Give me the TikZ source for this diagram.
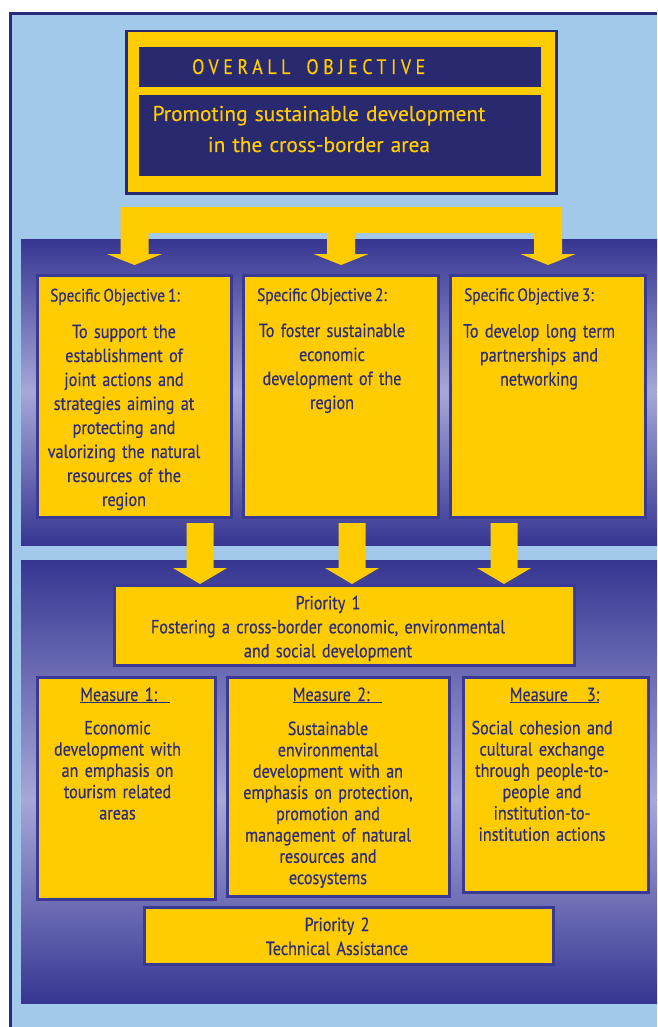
\documentclass[tikz,border=0pt]{standalone}
\usepackage{fontspec}
\setmainfont{PT Sans}[FakeStretch=0.85,WordSpace=0.75,FakeBold=0.4]
\newfontfamily\goalfont{PT Sans}[WordSpace=0.8,FakeBold=0.3]
\usetikzlibrary{calc}

\definecolor{sky}{HTML}{A2C8EA}
\definecolor{frame}{HTML}{2A2A7A}
\definecolor{navy}{HTML}{29296F}
\definecolor{gold}{HTML}{FECC00}
\definecolor{edge}{HTML}{3A3A96}
\definecolor{ink}{HTML}{2C2C7C}
\definecolor{panel}{HTML}{363692}
\definecolor{panellite}{HTML}{A6A8D8}

\tikzset{
  goldbox/.style={draw=edge,line width=3pt,fill=gold,anchor=north west,inner sep=0pt},
  navybox/.style={fill=navy,anchor=north west,inner sep=0pt},
  shadedown/.style={top color=panel,bottom color=panellite},
  shadeup/.style={top color=panellite,bottom color=panel},
  headtext/.style={text=gold,inner sep=0pt,anchor=base west,
    font=\fontsize{21}{21}\selectfont\addfontfeature{LetterSpace=22}},
  goaltext/.style={text=gold,inner sep=0pt,anchor=base,align=center,text width=400,
    font=\goalfont\fontsize{21.4}{31}\selectfont},
  titletext/.style={text=ink,inner sep=0pt,anchor=base west,font=\fontsize{18}{24}\selectfont},
  bodytext/.style={text=ink,inner sep=0pt,anchor=base,align=center,text width=300,
    font=\fontsize{19}{24}\selectfont},
  measuretext/.style={bodytext,font=\fontsize{19}{21.3}\selectfont},
  prioritytext/.style={bodytext,text width=440}
}

\begin{document}
\begin{tikzpicture}[x=1pt,y=-1pt]
  \useasboundingbox (0,0) rectangle (657,1027);
  % background and frame
  \fill[frame] (9,12) rectangle (657,1027);
  \fill[sky] (12,15) rectangle (657,1027);
  \shade[shadedown] (21,239) rectangle (657,392);
  \shade[shadeup] (21,391.5) rectangle (657,545);
  \shade[shadedown] (21,560) rectangle (657,800);
  \shade[shadeup] (21,799.5) rectangle (657,1003);

  % overall objective
  \node[goldbox,draw=navy,line width=2.5pt,minimum width=430,minimum height=162] (top) at (125,30) {};
  \node[navybox,minimum width=402,minimum height=40] (head) at (139,47) {};
  \node[navybox,minimum width=402,minimum height=81] (goal) at (139,95) {};
  \node[headtext] (headlbl) at (192,74) {OVERALL\hspace{16pt}OBJECTIVE};
  \node[goaltext] (goallbl) at (319,121) {Promoting sustainable development\\in the cross-border area};

  % specific objectives
  \node[goldbox,minimum width=194,minimum height=242] (so1) at (36,274) {};
  \node[goldbox,minimum width=195,minimum height=242] (so2) at (242,274) {};
  \node[goldbox,minimum width=195,minimum height=242] (so3) at (449,274) {};
  \node[titletext] (so1t) at (50,301.5) {Specific Objective 1:};
  \node[titletext] (so2t) at (257,301) {Specific Objective 2:};
  \node[titletext] (so3t) at (464,301) {Specific Objective 3:};
  \node[bodytext] (so1b) at (124,338) {To support the\\establishment of\\joint actions and\\strategies aiming at\\protecting and\\valorizing the natural\\resources of the\\region};
  \node[bodytext] (so2b) at (332,337) {To foster sustainable\\economic\\development of the\\region};
  \node[bodytext] (so3b) at (539,337.5) {To develop long term\\partnerships and\\networking};

  % arrows from the overall objective
  \coordinate (t1) at ($(so1.north)+(0,-9)$);
  \coordinate (t2) at ($(so2.north)+(0,-9)$);
  \coordinate (t3) at ($(so3.north)+(0,-9)$);
  \fill[gold] ($(t1)+(-14,-58)$) -- ($(t3)+(14,-58)$) -- ($(t3)+(14,-11)$) -- ($(t3)+(27.5,-11)$)
    -- (t3) -- ($(t3)+(-27.5,-11)$) -- ($(t3)+(-14,-11)$) -- ($(t3)+(-14,-32)$)
    -- ($(t2)+(14,-32)$) -- ($(t2)+(14,-11)$) -- ($(t2)+(27.5,-11)$)
    -- (t2) -- ($(t2)+(-27.5,-11)$) -- ($(t2)+(-14,-11)$) -- ($(t2)+(-14,-32)$)
    -- ($(t1)+(14,-32)$) -- ($(t1)+(14,-11)$) -- ($(t1)+(27.5,-11)$)
    -- (t1) -- ($(t1)+(-27.5,-11)$) -- ($(t1)+(-14,-11)$) -- cycle;

  % priority 1 and measures
  \node[goldbox,minimum width=460,minimum height=80] (pr1) at (113,584) {};
  \node[prioritytext] (pr1t) at (328,609.3) {Priority 1\\Fostering a cross-border economic, environmental\\and social development};
  \node[goldbox,minimum width=178,minimum height=222] (m1) at (36,676) {};
  \node[goldbox,minimum width=222,minimum height=219] (m2) at (226,676) {};
  \node[goldbox,minimum width=185,minimum height=215] (m3) at (462,676) {};
  \node[bodytext] (m1t) at (125,701) {\underline{Measure 1:\ \ }};
  \node[bodytext] (m2t) at (337.5,701) {\underline{Measure 2:\ \ }};
  \node[bodytext] (m3t) at (554.5,701) {\underline{Measure\ \ \ 3:}};
  \node[measuretext] (m1b) at (117.5,734.3) {Economic\\development with\\an emphasis on\\tourism related\\areas};
  \node[measuretext] (m2b) at (328,735) {Sustainable\\environmental\\development with an\\emphasis on protection,\\promotion and\\management of natural\\resources and\\ecosystems};
  \node[measuretext] (m3b) at (542,734.3) {Social cohesion and\\cultural exchange\\through people-to-\\people and\\institution-to-\\institution actions};
  \node[goldbox,minimum width=409,minimum height=57] (pr2) at (143,906) {};
  \node[prioritytext] (pr2t) at (337,931) {Priority 2\\Technical Assistance};

  % arrows from the specific objectives
  \coordinate (s1) at ($(so1.south)+(65.5,4)$);
  \coordinate (s2) at ($(so2.south)+(11,4)$);
  \coordinate (s3) at ($(so3.south)+(-44,4)$);
  \foreach \i in {1,2,3}{
    \coordinate (u\i) at (s\i |- pr1.north);
    \fill[gold] ($(s\i)+(-13.5,0)$) -- ($(u\i)+(-13.5,-16)$) -- ($(u\i)+(-27,-16)$) -- (u\i)
      -- ($(u\i)+(27,-16)$) -- ($(u\i)+(13.5,-16)$) -- ($(s\i)+(13.5,0)$) -- cycle;
  }
\end{tikzpicture}
\end{document}
